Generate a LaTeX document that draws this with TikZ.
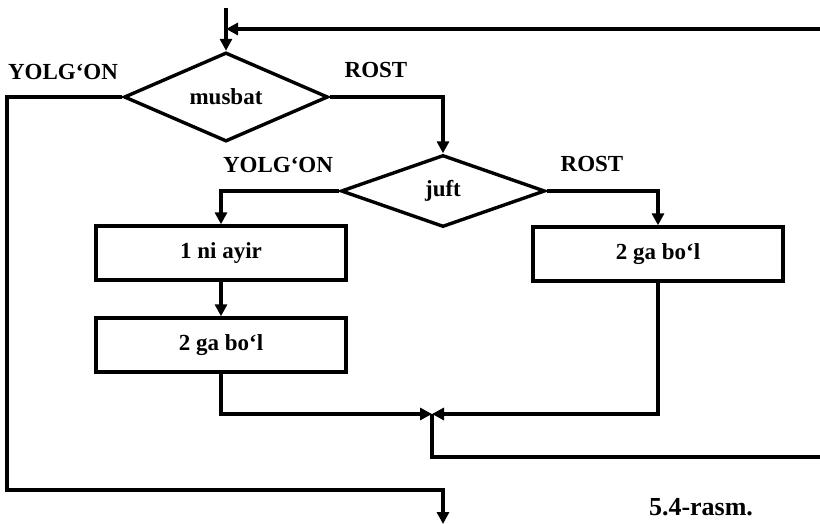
\documentclass[tikz,border=0pt]{standalone}
\usepackage{fontspec}
\setmainfont{Liberation Serif}
\usetikzlibrary{shapes.geometric,arrows.meta}
\begin{document}
\begin{tikzpicture}[x=1pt,y=-1pt,
  line width=3.4pt,
  every node/.style={font=\fontsize{23}{27}\selectfont\bfseries},
  dec/.style={diamond,draw,inner sep=0pt,minimum width=204pt,minimum height=72pt},
  box/.style={rectangle,draw,inner sep=0pt,minimum width=250pt,minimum height=54pt},
  lbl/.style={anchor=base,inner sep=0pt},
  arr/.style={-{Triangle[length=12pt,width=12pt]}},
]
\useasboundingbox (0,0) rectangle (820,524);
% nodes
\node[dec] (musbat) at (226,97) {musbat};
\node[dec] (juft) at (443,191) {juft};
\node[box] (ayir) at (221,253) {1 ni ayir};
\node[box] (bol1) at (221,345) {2 ga bo‘l};
\node[box] (bol2) at (658,254) {2 ga bo‘l};
% labels
\node[lbl] (l1) at (63,80) {YOLG‘ON};
\node[lbl] (r1) at (376,78) {ROST};
\node[lbl] (l2) at (278,173) {YOLG‘ON};
\node[lbl] (r2) at (592,172) {ROST};
\node[lbl,font=\fontsize{26}{30}\selectfont\bfseries] (cap) at (701,515) {5.4-rasm.};
% coordinates
\coordinate (top) at (226,8);
\coordinate (tj) at (226,29);
\coordinate (rin) at (821,29);
\coordinate (lc1) at (7,97);
\coordinate (lc2) at (7,490);
\coordinate (lc3) at (443,490);
\coordinate (out) at (443,524);
\coordinate (j) at (432,414);
\coordinate (j2) at (432,457);
\coordinate (rout) at (821,457);
% connectors
\draw[arr] (top) -- (musbat.north);
\draw[arr] (rin) -- (tj);
\draw[arr] (musbat.east) -| (juft.north);
\draw[arr] (musbat.west) -- (lc1) -- (lc2) -- (lc3) -- (out);
\draw[arr] (juft.west) -| (ayir.north);
\draw[arr] (juft.east) -| (bol2.north);
\draw[arr] (ayir.south) -- (bol1.north);
\draw[arr] (bol1.south) |- (j);
\draw[arr] (bol2.south) |- (j);
\draw (j) -- (j2) -- (rout);
\end{tikzpicture}
\end{document}
